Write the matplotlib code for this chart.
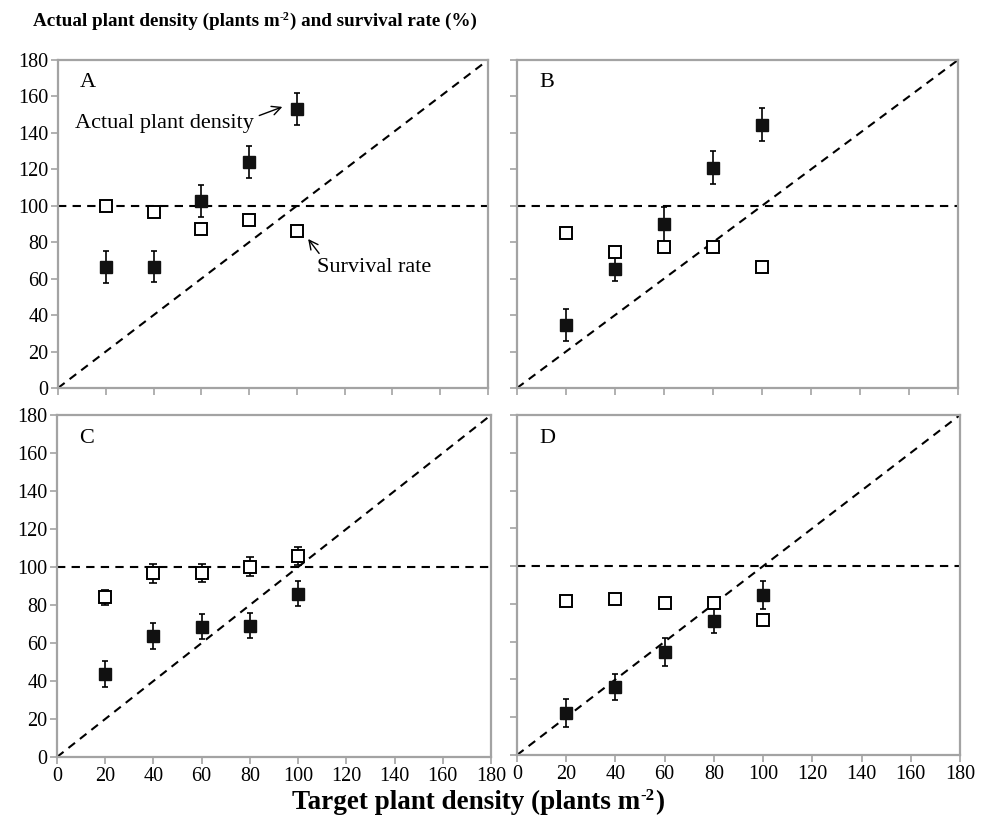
import matplotlib
matplotlib.use("Agg")
import matplotlib.pyplot as plt

plt.rcParams['font.family'] = ['Liberation Serif', 'DejaVu Serif']

# ---- data ----
target = [20, 40, 60, 80, 100]

A_density = [66.4, 66.6, 102.7, 124.0, 153.3]
A_density_err = [8.8, 8.5, 8.7, 8.6, 8.8]
A_survival = [100.0, 96.4, 87.3, 92.4, 86.0]

B_density = [34.4, 65.5, 89.8, 120.8, 144.4]
B_density_err = [8.7, 7.0, 9.5, 9.0, 9.0]
B_survival = [85.2, 74.4, 77.5, 77.4, 66.6]

C_density = [43.8, 63.9, 68.6, 69.1, 86.0]
C_density_err = [6.7, 6.8, 6.7, 6.7, 6.6]
C_survival = [84.0, 96.7, 97.0, 100.2, 106.0]
C_survival_err = [4.0, 5.0, 4.8, 5.0, 4.7]

D_density = [22.4, 36.1, 54.7, 71.1, 84.8]
D_density_err = [7.5, 7.0, 7.5, 6.6, 7.3]
D_survival = [81.3, 82.4, 80.4, 80.6, 71.6]

ticks = [0, 20, 40, 60, 80, 100, 120, 140, 160, 180]
panel_letters = ['A', 'B', 'C', 'D']

W, H = 986, 818
fig = plt.figure(figsize=(W / 100, H / 100), dpi=100)


def px_axes(left, right, top, bottom):
    return fig.add_axes([left / W, (H - bottom) / H, (right - left) / W, (bottom - top) / H])


ax_A = px_axes(58, 488, 60, 388)
ax_B = px_axes(517, 958, 60, 388)
ax_C = px_axes(57, 491, 415, 757)
ax_D = px_axes(517, 960, 415, 755)

SPINE = '#a3a3a3'
DASH = (0, (4, 3))

panels = [
    (ax_A, A_density, A_density_err, A_survival, None, True, False),
    (ax_B, B_density, B_density_err, B_survival, None, False, False),
    (ax_C, C_density, C_density_err, C_survival, C_survival_err, True, True),
    (ax_D, D_density, D_density_err, D_survival, None, False, True),
]

for i, (ax, dens, dens_err, surv, surv_err, ylabels, xlabels) in enumerate(panels):
    ax.set_xlim(0, 180)
    ax.set_ylim(0, 180)
    ax.plot([0, 180], [100, 100], color='black', lw=1.5, linestyle=DASH, zorder=2)
    ax.plot([0, 180], [0, 180], color='black', lw=1.5, linestyle=DASH, zorder=2)
    if surv_err is not None:
        ax.errorbar(target, surv, yerr=surv_err, fmt='none', ecolor='black',
                    elinewidth=1.2, capsize=3, capthick=1.2, zorder=3)
    ax.plot(target, surv, linestyle='none', marker='s', markersize=8.8,
            markerfacecolor='white', markeredgecolor='black', markeredgewidth=1.4, zorder=5)
    ax.errorbar(target, dens, yerr=dens_err, fmt='none', ecolor='black',
                elinewidth=1.2, capsize=2.2, capthick=1.2, zorder=3)
    ax.plot(target, dens, linestyle='none', marker='s', markersize=9,
            markerfacecolor='#111111', markeredgecolor='#111111', zorder=4)

    ax.set_xticks(ticks)
    ax.set_yticks(ticks)
    ax.tick_params(axis='both', direction='out', length=5, width=1.2, color=SPINE,
                   labelsize=14.5, pad=2)
    if not ylabels:
        ax.set_yticklabels([])
    if not xlabels:
        ax.set_xticklabels([])
    for s in ax.spines.values():
        s.set_color(SPINE)
        s.set_linewidth(1.6)
    ax.text(0.05, 0.93, panel_letters[i], transform=ax.transAxes, fontsize=16,
            ha='left', va='center')

# annotations in panel A
ax_A.annotate('Actual plant density', xy=(95, 154.8), xytext=(82, 150.5),
              fontsize=16, ha='right', va='top',
              arrowprops=dict(arrowstyle='->', color='black', lw=1.0,
                              relpos=(1.0, 0.8)))
ax_A.annotate('Survival rate', xy=(104, 83), xytext=(108.5, 65.9),
              fontsize=16, ha='left', va='center',
              arrowprops=dict(arrowstyle='->', color='black', lw=1.0,
                              relpos=(0.05, 1.0)))

renderer = fig.canvas.get_renderer()


def rich_line(x_px, y_px, pieces, size, align='left'):
    """pieces: list of (text, is_superscript). Placed consecutively, baseline at y_px."""
    arts = []
    for txt, sup in pieces:
        fs = size * 0.62 if sup else size
        dy = size * 0.45 if sup else 0.0
        t = fig.text(0, 0, txt, fontsize=fs, fontweight='bold', ha='left', va='baseline')
        arts.append((t, dy))
    widths = [t.get_window_extent(renderer=renderer).width for t, _ in arts]
    total = sum(widths)
    start = x_px - total / 2 if align == 'center' else x_px
    x = start
    for (t, dy), w in zip(arts, widths):
        t.set_position((x / W, (H - y_px + dy) / H))
        x += w


rich_line(33, 26, [('Actual plant density (plants m', False), ('-2', True),
                   (') and survival rate (%)', False)], 13.8)
rich_line(478, 809, [('Target plant density (plants m', False), ('-2', True),
                     (')', False)], 19.5, align='center')

fig.savefig('out.png', dpi=100)
